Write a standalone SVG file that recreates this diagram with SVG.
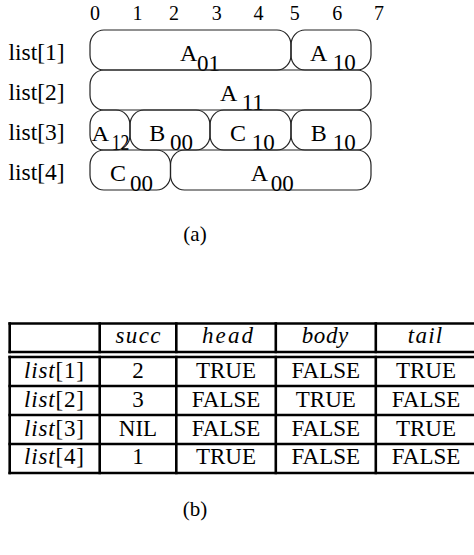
<svg xmlns="http://www.w3.org/2000/svg" width="474" height="555" viewBox="0 0 474 555">
<style>
text{font-family:"Liberation Serif","Times New Roman",serif;fill:#000}
.idx{font-size:20px;text-anchor:middle}
.lbl{font-size:23.5px}
.m{font-size:24px}
.s{font-size:23px}
.box{fill:none;stroke:#222;stroke-width:1.2}
.rule{stroke:#000;stroke-width:2.6;fill:none}
.th{font-size:23px;font-style:italic;text-anchor:middle}
.td{font-size:23px;text-anchor:middle}
.cap{font-size:21px;text-anchor:middle}
</style>
<rect width="474" height="555" fill="#fff"/>
<g id="figure-a">
  <g id="indices">
    <text class="idx" x="95" y="20">0</text>
    <text class="idx" x="137.5" y="20">1</text>
    <text class="idx" x="174" y="20">2</text>
    <text class="idx" x="216.7" y="20">3</text>
    <text class="idx" x="258.5" y="20">4</text>
    <text class="idx" x="294.7" y="20">5</text>
    <text class="idx" x="337.2" y="20">6</text>
    <text class="idx" x="379" y="20">7</text>
  </g>
  <g id="row-labels">
    <text class="lbl" x="8.5" y="60">list[1]</text>
    <text class="lbl" x="8.5" y="100">list[2]</text>
    <text class="lbl" x="8.5" y="140">list[3]</text>
    <text class="lbl" x="8.5" y="180">list[4]</text>
  </g>
  <g id="A01"><rect class="box" x="90" y="30" width="201" height="40" rx="14" ry="15"/><text class="m" x="180" y="60.5">A</text><text class="s" x="197" y="70.5">01</text></g>
  <g id="A10"><rect class="box" x="291" y="30" width="80" height="40" rx="14" ry="15"/><text class="m" x="310" y="60.5">A</text><text class="s" x="332.7" y="69.8">10</text></g>
  <g id="A11"><rect class="box" x="90" y="70" width="281" height="40" rx="14" ry="15"/><text class="m" x="220" y="100.5">A</text><text class="s" x="241.7" y="110.3">11</text></g>
  <g id="A12"><rect class="box" x="90" y="110" width="40" height="40" rx="14" ry="15"/><text class="m" x="91.5" y="140.5" style="font-size:21px" textLength="17.6" lengthAdjust="spacingAndGlyphs">A</text><text class="s" x="111.7" y="150" textLength="17.7" lengthAdjust="spacingAndGlyphs">12</text></g>
  <g id="B00"><rect class="box" x="130" y="110" width="80" height="40" rx="14" ry="15"/><text class="m" x="149.3" y="140.5">B</text><text class="s" x="170" y="150.3">00</text></g>
  <g id="C10"><rect class="box" x="210" y="110" width="81" height="40" rx="14" ry="15"/><text class="m" x="230" y="140.5">C</text><text class="s" x="251.7" y="150">10</text></g>
  <g id="B10"><rect class="box" x="291" y="110" width="80" height="40" rx="14" ry="15"/><text class="m" x="310.7" y="140.5">B</text><text class="s" x="332.7" y="149.6">10</text></g>
  <g id="C00"><rect class="box" x="90" y="150" width="80.5" height="40" rx="14" ry="15"/><text class="m" x="110" y="180.5">C</text><text class="s" x="130" y="190.6">00</text></g>
  <g id="A00"><rect class="box" x="170.5" y="150" width="200.5" height="40" rx="14" ry="15"/><text class="m" x="250.7" y="180.5">A</text><text class="s" x="270.7" y="191">00</text></g>
  <text id="caption-a" class="cap" x="195" y="241">(a)</text>
</g>
<g id="table-b">
  <g id="rules">
    <line class="rule" x1="8.4" y1="323.5" x2="476" y2="323.5"/>
    <line class="rule" x1="8.4" y1="352" x2="476" y2="352"/>
    <line class="rule" x1="8.4" y1="357" x2="476" y2="357"/>
    <line class="rule" x1="8.4" y1="386" x2="476" y2="386"/>
    <line class="rule" x1="8.4" y1="415" x2="476" y2="415"/>
    <line class="rule" x1="8.4" y1="444" x2="476" y2="444"/>
    <line class="rule" x1="8.4" y1="473" x2="476" y2="473"/>
    <path class="rule" d="M9.7 322.2V353.3M99.7 322.2V353.3M176.3 322.2V353.3M275.8 322.2V353.3M375.8 322.2V353.3"/>
    <path class="rule" d="M9.7 355.7V474.3M99.7 355.7V474.3M176.3 355.7V474.3M275.8 355.7V474.3M375.8 355.7V474.3"/>
  </g>
  <g id="header">
    <text class="th" x="138" y="342.5" textLength="45" lengthAdjust="spacing">succ</text>
    <text class="th" x="227.5" y="342.5" textLength="51" lengthAdjust="spacing">head</text>
    <text class="th" x="325" y="342.5" textLength="46.5" lengthAdjust="spacing">body</text>
    <text class="th" x="425" y="342.5" textLength="34.5" lengthAdjust="spacing">tail</text>
  </g>
  <g id="row-1">
    <text class="td" x="54" y="377.5" textLength="60" lengthAdjust="spacing"><tspan font-style="italic">list</tspan>[1]</text>
    <text class="td" x="138" y="377.5">2</text>
    <text class="td" x="226" y="377.5">TRUE</text>
    <text class="td" x="325.8" y="377.5">FALSE</text>
    <text class="td" x="426" y="377.5">TRUE</text>
  </g>
  <g id="row-2">
    <text class="td" x="54" y="406.5" textLength="60" lengthAdjust="spacing"><tspan font-style="italic">list</tspan>[2]</text>
    <text class="td" x="138" y="406.5">3</text>
    <text class="td" x="226" y="406.5">FALSE</text>
    <text class="td" x="325.8" y="406.5">TRUE</text>
    <text class="td" x="426" y="406.5">FALSE</text>
  </g>
  <g id="row-3">
    <text class="td" x="54" y="435.5" textLength="60" lengthAdjust="spacing"><tspan font-style="italic">list</tspan>[3]</text>
    <text class="td" x="138" y="435.5">NIL</text>
    <text class="td" x="226" y="435.5">FALSE</text>
    <text class="td" x="325.8" y="435.5">FALSE</text>
    <text class="td" x="426" y="435.5">TRUE</text>
  </g>
  <g id="row-4">
    <text class="td" x="54" y="464.3" textLength="60" lengthAdjust="spacing"><tspan font-style="italic">list</tspan>[4]</text>
    <text class="td" x="138" y="464.3">1</text>
    <text class="td" x="226" y="464.3">TRUE</text>
    <text class="td" x="325.8" y="464.3">FALSE</text>
    <text class="td" x="426" y="464.3">FALSE</text>
  </g>
  <text id="caption-b" class="cap" x="195" y="516">(b)</text>
</g>
</svg>
